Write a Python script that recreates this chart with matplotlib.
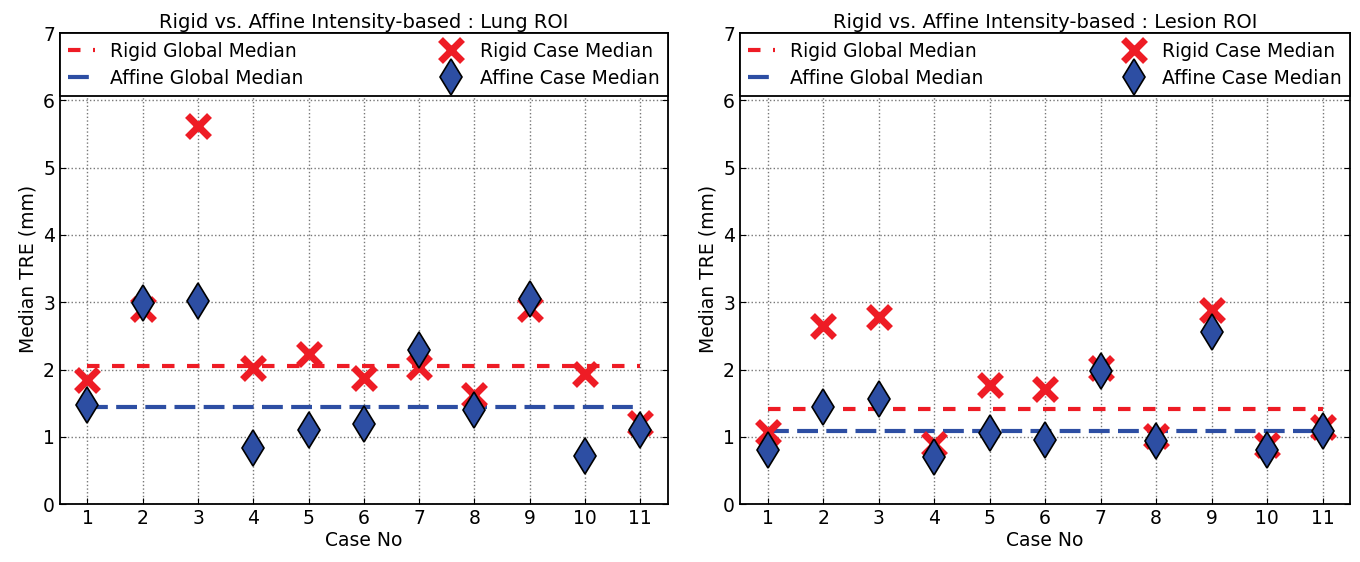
import numpy as np
import matplotlib
matplotlib.use("Agg")
import matplotlib.pyplot as plt

cases = list(range(1, 12))

# Lung ROI
lung_rigid = [1.84, 2.90, 5.62, 2.03, 2.23, 1.87, 2.04, 1.62, 2.90, 1.94, 1.20]
lung_affine = [1.47, 2.99, 3.02, 0.83, 1.10, 1.19, 2.29, 1.40, 3.05, 0.71, 1.10]
lung_rigid_global = 2.05
lung_affine_global = 1.44

# Lesion ROI
lesion_rigid = [1.07, 2.64, 2.78, 0.90, 1.77, 1.71, 2.03, 1.01, 2.88, 0.88, 1.15]
lesion_affine = [0.80, 1.44, 1.56, 0.70, 1.05, 0.95, 1.98, 0.94, 2.56, 0.81, 1.08]
lesion_rigid_global = 1.41
lesion_affine_global = 1.08

titles = ["Rigid vs. Affine Intensity-based : Lung ROI",
          "Rigid vs. Affine Intensity-based : Lesion ROI"]

red = "#ee1c25"
blue = "#2d4ea3"

plt.rcParams['font.family'] = ['DejaVu Sans']
plt.rcParams['xtick.direction'] = 'in'
plt.rcParams['ytick.direction'] = 'in'


def draw(ax, rigid, affine, rg, ag, title):
    ax.plot([cases[0], cases[-1]], [rg, rg], '--', color=red, lw=3,
            dashes=(3, 3), label='Rigid Global Median', zorder=2)
    ax.plot([cases[0], cases[-1]], [ag, ag], '--', color=blue, lw=3,
            dashes=(5, 2), label='Affine Global Median', zorder=2)
    ax.plot(cases, rigid, 'x', color=red, ms=16, mew=5,
            label='Rigid Case Median', zorder=3)
    ax.plot(cases, affine, 'd', color=blue, mec='black', mew=1.2, ms=18,
            label='Affine Case Median', zorder=4)
    ax.set_xlim(0.5, 11.5)
    ax.set_ylim(0, 7)
    ax.set_xticks(cases)
    ax.set_yticks(range(0, 8))
    ax.grid(True, color='#777777', linestyle=':', lw=1)
    ax.set_axisbelow(True)
    ax.tick_params(labelsize=13.5, length=4, top=True, right=True)
    ax.set_xlabel('Case No', fontsize=13.5, labelpad=2)
    ax.set_ylabel('Median TRE (mm)', fontsize=13.5)
    ax.set_title(title, fontsize=14, pad=4)
    for s in ax.spines.values():
        s.set_linewidth(1.3)
    leg = ax.legend(loc='upper center', ncol=2, mode='expand', fontsize=13.5,
                    borderaxespad=0, bbox_to_anchor=(0, 0, 1, 1),
                    fancybox=False, framealpha=1, edgecolor='black',
                    handlelength=1.4, numpoints=1, labelspacing=0.45,
                    borderpad=0.45, columnspacing=1.0)
    leg.get_frame().set_linewidth(1.3)


fig = plt.figure(figsize=(13.6, 5.62), dpi=100)
ax1 = fig.add_axes([0.044, 0.103, 0.447, 0.838])
ax2 = fig.add_axes([0.544, 0.103, 0.449, 0.838])

draw(ax1, lung_rigid, lung_affine, lung_rigid_global, lung_affine_global, titles[0])
draw(ax2, lesion_rigid, lesion_affine, lesion_rigid_global, lesion_affine_global, titles[1])

fig.savefig('out.png', dpi=100)
